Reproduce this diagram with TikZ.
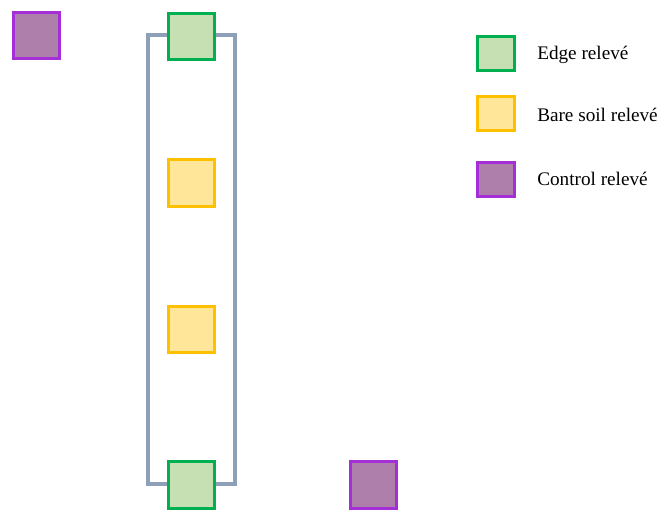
\documentclass[tikz,border=0pt]{standalone}
\usepackage{fontspec}
\setmainfont{Liberation Serif}
\definecolor{edgeline}{HTML}{00B050}
\definecolor{edgefill}{HTML}{C6E0B4}
\definecolor{soilline}{HTML}{FFC000}
\definecolor{soilfill}{HTML}{FFE699}
\definecolor{ctrlline}{HTML}{A52FD6}
\definecolor{ctrlfill}{HTML}{AE7FAB}
\definecolor{frameline}{HTML}{8E9FB8}
\tikzset{
  plot/.style={rectangle, line width=2.25pt, minimum width=35pt, minimum height=35pt, inner sep=0pt},
  edgebox/.style={plot, draw=edgeline, fill=edgefill},
  soilbox/.style={plot, draw=soilline, fill=soilfill},
  ctrlbox/.style={plot, draw=ctrlline, fill=ctrlfill},
  keybox/.style={minimum width=27.5pt, minimum height=25.5pt},
  keytext/.style={anchor=west, inner sep=0pt, font=\fontsize{14.4pt}{17pt}\selectfont},
  transect/.style={draw=frameline, line width=3pt, rectangle, inner sep=0pt}
}
\begin{document}
\begin{tikzpicture}[x=0.75pt, y=-0.75pt]
  \useasboundingbox (0,0) rectangle (667,510);
  % transect frame
  \node[transect, minimum width=65.25pt, minimum height=336.4pt] (frame) at (191,259.25) {};
  % relevés along the transect
  \node[edgebox] (e1) at (191.5,36.5) {};
  \node[soilbox] (s1) at (191.5,183) {};
  \node[soilbox] (s2) at (191.5,329.5) {};
  \node[edgebox] (e2) at (191.5,485) {};
  % control relevés
  \node[ctrlbox] (c1) at (36.5,35.5) {};
  \node[ctrlbox] (c2) at (373.5,485) {};
  % legend
  \node[edgebox, keybox] (k1) at (496,53.5) {};
  \node[soilbox, keybox] (k2) at (496,113) {};
  \node[ctrlbox, keybox] (k3) at (496,179) {};
  \node[keytext] (t1) at (537,55) {Edge relevé};
  \node[keytext] (t2) at (537,115) {Bare soil relevé};
  \node[keytext] (t3) at (537,178.5) {Control relevé};
\end{tikzpicture}
\end{document}
